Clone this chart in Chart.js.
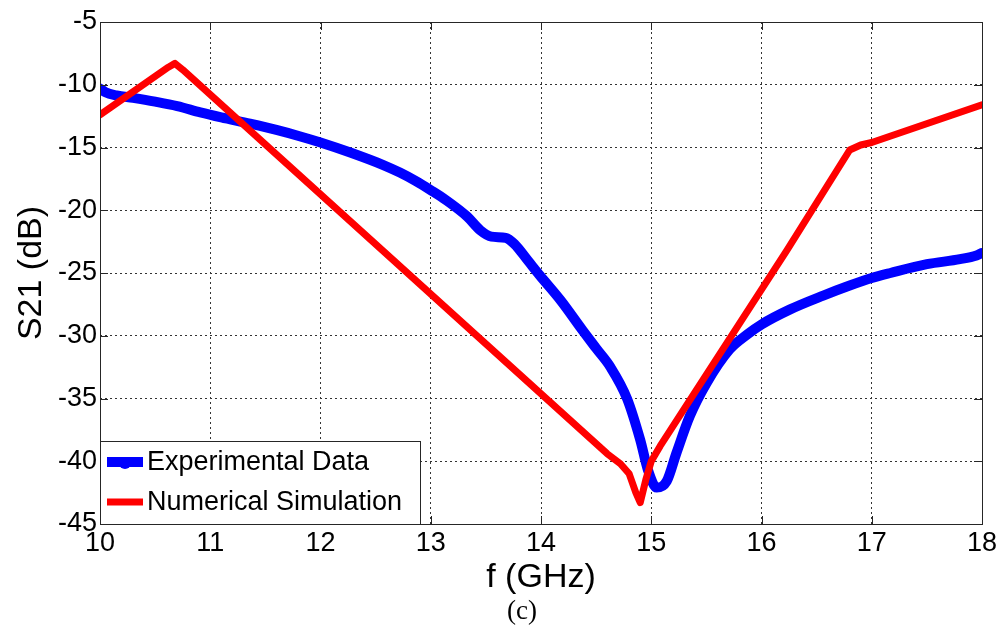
<!DOCTYPE html>
<html>
<head>
<meta charset="utf-8">
<script src="https://cdn.jsdelivr.net/npm/chart.js@4/dist/chart.umd.min.js"></script>
<style>
  html, body { margin: 0; padding: 0; background: #fff; }
  #wrap { width: 1002px; height: 631px; }
</style>
</head>
<body>
<div id="wrap"><canvas id="s21"></canvas></div>
<script>
// values (f in GHz, S21 in dB)
const expFreq = [10.0, 10.05, 10.15, 10.3, 10.5, 10.7, 10.91, 11.1, 11.36, 11.6, 11.81, 12.0,
    12.27, 12.57, 12.72, 12.87, 13.0, 13.14, 13.33, 13.45, 13.55, 13.68, 13.76, 13.88, 13.99,
    14.18, 14.38, 14.5, 14.63, 14.78, 14.9, 14.97, 15.05, 15.14, 15.23, 15.35, 15.5, 15.71,
    15.87, 16.0, 16.26, 16.56, 16.8, 17.0, 17.17, 17.5, 17.8, 17.95, 18.0];
const expS21 = [-10.3, -10.6, -10.85, -11.05, -11.35, -11.7, -12.2, -12.6, -13.1, -13.6, -14.1, -14.6,
    -15.4, -16.4, -17.0, -17.7, -18.4, -19.2, -20.5, -21.6, -22.1, -22.2, -22.7, -24.0, -25.2,
    -27.2, -29.6, -31.0, -32.5, -35.0, -38.3, -40.7, -42.1, -41.6, -39.3, -36.4, -33.8, -31.1,
    -29.9, -29.1, -27.9, -26.8, -26.0, -25.4, -25.0, -24.3, -23.9, -23.6, -23.4];

const simFreq = [10.0, 10.62, 10.68, 10.75, 14.6, 14.72, 14.8, 14.86, 14.9, 14.95, 15.0, 15.08,
    16.23, 16.8, 16.9, 17.0, 18.0];
const simS21 = [-12.4, -8.6, -8.3, -8.8, -39.4, -40.2, -41.0, -42.5, -43.3, -41.5, -40.0, -38.8,
    -23.2, -15.2, -14.8, -14.6, -11.6];

const seriesLabels = ['Experimental Data', 'Numerical Simulation'];
const xTicks = [10, 11, 12, 13, 14, 15, 16, 17, 18];
const yTicks = [-45, -40, -35, -30, -25, -20, -15, -10, -5];

const FONT = "Arial, 'Liberation Sans', sans-serif";

function toPoints(xs, ys) {
    return xs.map((x, i) => ({ x: x, y: ys[i] }));
}

// box, inward ticks, legend and caption
const matlabFrame = {
    id: 'matlabFrame',
    afterDraw(chart) {
        const ctx = chart.ctx;
        const a = chart.chartArea;
        const xs = chart.scales.x, ys = chart.scales.y;
        ctx.save();
        ctx.strokeStyle = '#262626';
        ctx.lineWidth = 1;
        ctx.setLineDash([]);
        ctx.strokeRect(Math.round(a.left) + 0.5, Math.round(a.top) + 0.5,
            Math.round(a.right - a.left), Math.round(a.bottom - a.top));
        ctx.beginPath();
        xTicks.forEach(v => {
            const p = Math.round(xs.getPixelForValue(v)) + 0.5;
            ctx.moveTo(p, a.bottom); ctx.lineTo(p, a.bottom - 8);
            ctx.moveTo(p, a.top); ctx.lineTo(p, a.top + 8);
        });
        yTicks.forEach(v => {
            const p = Math.round(ys.getPixelForValue(v)) + 0.5;
            ctx.moveTo(a.left, p); ctx.lineTo(a.left + 8, p);
            ctx.moveTo(a.right, p); ctx.lineTo(a.right - 8, p);
        });
        ctx.stroke();

        // legend box, bottom left
        const lx = a.left, ly = 441, lw = 320, lh = a.bottom - 441;
        ctx.fillStyle = '#fff';
        ctx.fillRect(lx, ly, lw, lh);
        ctx.strokeStyle = '#262626';
        ctx.strokeRect(Math.round(lx) + 0.5, ly + 0.5, lw, Math.round(lh));
        ctx.font = '27px ' + FONT;
        ctx.textBaseline = 'middle';
        ctx.textAlign = 'left';
        const rows = [462, 502];
        chart.data.datasets.forEach((ds, i) => {
            const y = rows[i];
            ctx.strokeStyle = ds.borderColor;
            ctx.lineWidth = ds.borderWidth;
            ctx.beginPath();
            ctx.moveTo(lx + 7, y);
            ctx.lineTo(lx + 43, y);
            ctx.stroke();
            if (i === 0) {
                ctx.fillStyle = ds.borderColor;
                ctx.beginPath();
                ctx.arc(lx + 25, y + 1, 6, 0, Math.PI * 2);
                ctx.fill();
            }
            ctx.fillStyle = '#000';
            ctx.fillText(ds.label, lx + 47, y + 1);
        });

        ctx.font = "27px 'Liberation Serif', 'Times New Roman', serif";
        ctx.textAlign = 'center';
        ctx.fillText('(c)', 522, 612);
        ctx.restore();
    }
};

new Chart(document.getElementById('s21'), {
    type: 'line',
    data: {
        datasets: [{
            label: seriesLabels[0],
            data: toPoints(expFreq, expS21),
            borderColor: '#0000ff',
            borderWidth: 10,
            pointRadius: 0,
            cubicInterpolationMode: 'monotone',
            borderJoinStyle: 'round',
            borderCapStyle: 'round',
            order: 2
        }, {
            label: seriesLabels[1],
            data: toPoints(simFreq, simS21),
            borderColor: '#ff0000',
            borderWidth: 7,
            pointRadius: 0,
            tension: 0,
            borderJoinStyle: 'round',
            borderCapStyle: 'round',
            order: 1
        }]
    },
    options: {
        responsive: true,
        maintainAspectRatio: false,
        animation: false,
        layout: { padding: { left: 0, top: 22, right: 20, bottom: 0 } },
        scales: {
            x: {
                type: 'linear',
                min: 10,
                max: 18,
                afterFit: s => { s.height = 107; },
                afterBuildTicks: s => { s.ticks = xTicks.map(v => ({ value: v })); },
                ticks: { color: '#000', padding: 3, font: { family: FONT, size: 27 } },
                grid: { color: '#333', lineWidth: 1, drawTicks: false },
                border: { display: false, dash: [2, 3] },
                title: {
                    display: true,
                    text: 'f (GHz)',
                    color: '#000',
                    font: { family: FONT, size: 34 },
                    padding: { top: 0, bottom: 33 }
                }
            },
            y: {
                type: 'linear',
                min: -45,
                max: -5,
                afterFit: s => { s.width = 100; },
                afterBuildTicks: s => { s.ticks = yTicks.map(v => ({ value: v })); },
                ticks: { color: '#000', padding: 3, font: { family: FONT, size: 27 } },
                grid: { color: '#333', lineWidth: 1, drawTicks: false },
                border: { display: false, dash: [2, 3] },
                title: {
                    display: true,
                    text: 'S21 (dB)',
                    color: '#000',
                    font: { family: FONT, size: 34 },
                    padding: { top: 11, bottom: 0 }
                }
            }
        },
        plugins: {
            legend: { display: false },
            tooltip: { enabled: false }
        }
    },
    plugins: [matlabFrame]
});
</script>
</body>
</html>
